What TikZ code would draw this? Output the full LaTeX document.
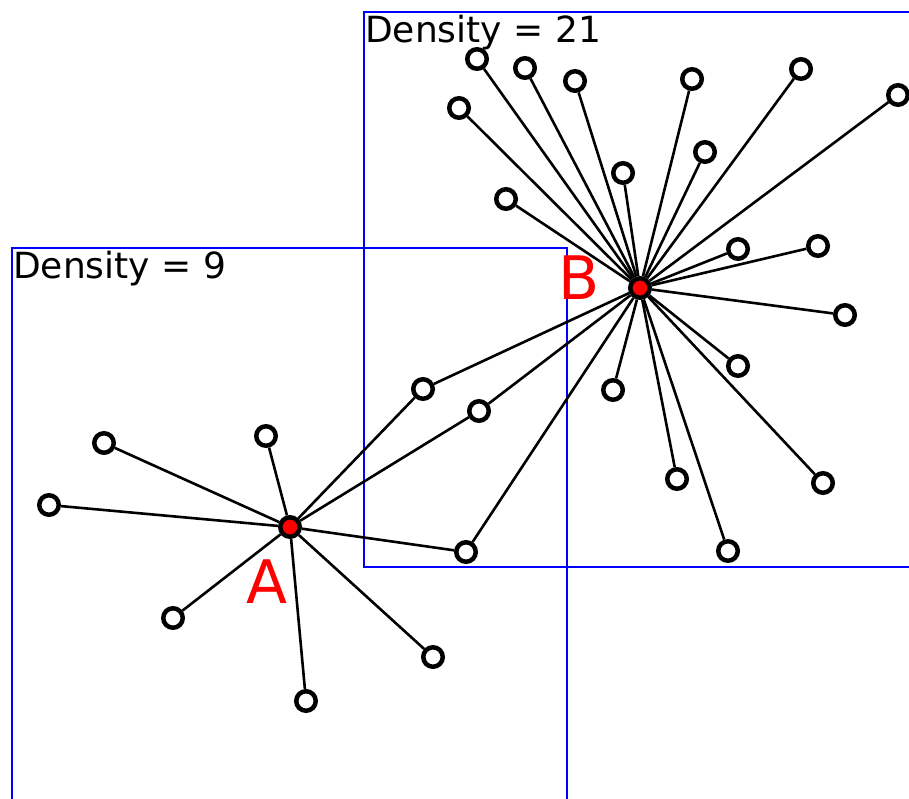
\documentclass[tikz,border=0pt]{standalone}
\usepackage{fontspec}
\setmainfont{DejaVu Sans}
\usepackage{tikz}
\usetikzlibrary{positioning}

\begin{document}
\begin{tikzpicture}[x=1pt,y=-1pt,
  vertex/.style={circle,draw=black,line width=4.5pt,fill=white,inner sep=0pt,minimum size=19.5pt},
  hub/.style={vertex,fill=red},
  edge/.style={black,line width=2.6pt},
  window/.style={blue,line width=2pt},
  density/.style={anchor=base west,inner sep=0pt,font=\fontsize{36}{42}\selectfont},
  tag/.style={anchor=base west,inner sep=0pt,text=red,font=\fontsize{60}{72}\selectfont}]
  \useasboundingbox[fill=white] (0,0) rectangle (909,799);
  % windows
  \draw[window] (12,799) -- (12,248) -- (567,248) -- (567,799);
  \draw[window] (909,12) -- (364,12) -- (364,567) -- (909,567);
  \node[density] (dA) at (13,279) {Density = 9};
  \node[density] (dB) at (365,43) {Density = 21};
  % hubs
  \node[hub] (A) at (290,527) {};
  \node[hub] (B) at (640,288) {};
  \node[tag] (tA) at (246,603) {A};
  \node[tag] (tB) at (558,299) {B};
  % neighbours of A only
  \node[vertex] (a1) at (104,443) {};
  \node[vertex] (a2) at (49,505) {};
  \node[vertex] (a3) at (266,436) {};
  \node[vertex] (a4) at (173,618) {};
  \node[vertex] (a5) at (306,701) {};
  \node[vertex] (a6) at (433,657) {};
  % shared
  \node[vertex] (s1) at (423,389) {};
  \node[vertex] (s2) at (479,411) {};
  \node[vertex] (s3) at (466,552) {};
  % neighbours of B only
  \node[vertex] (b1) at (477,59) {};
  \node[vertex] (b2) at (525,68) {};
  \node[vertex] (b3) at (575,81) {};
  \node[vertex] (b4) at (692,79) {};
  \node[vertex] (b5) at (801,69) {};
  \node[vertex] (b6) at (898,95) {};
  \node[vertex] (b7) at (459,108) {};
  \node[vertex] (b8) at (705,152) {};
  \node[vertex] (b9) at (623,173) {};
  \node[vertex] (b10) at (506,199) {};
  \node[vertex] (b11) at (738,249) {};
  \node[vertex] (b12) at (818,246) {};
  \node[vertex] (b13) at (845,315) {};
  \node[vertex] (b14) at (738,366) {};
  \node[vertex] (b15) at (613,390) {};
  \node[vertex] (b16) at (677,479) {};
  \node[vertex] (b17) at (823,483) {};
  \node[vertex] (b18) at (728,551) {};
  % edges
  \draw[edge] (A)--(a1); \draw[edge] (A)--(a2); \draw[edge] (A)--(a3); \draw[edge] (A)--(a4);
  \draw[edge] (A)--(a5); \draw[edge] (A)--(a6);
  \draw[edge] (A)--(s1); \draw[edge] (A)--(s2); \draw[edge] (A)--(s3);
  \draw[edge] (B)--(s1); \draw[edge] (B)--(s2); \draw[edge] (B)--(s3);
  \draw[edge] (B)--(b1); \draw[edge] (B)--(b2); \draw[edge] (B)--(b3); \draw[edge] (B)--(b4);
  \draw[edge] (B)--(b5); \draw[edge] (B)--(b6); \draw[edge] (B)--(b7); \draw[edge] (B)--(b8);
  \draw[edge] (B)--(b9); \draw[edge] (B)--(b10); \draw[edge] (B)--(b11); \draw[edge] (B)--(b12);
  \draw[edge] (B)--(b13); \draw[edge] (B)--(b14); \draw[edge] (B)--(b15); \draw[edge] (B)--(b16);
  \draw[edge] (B)--(b17); \draw[edge] (B)--(b18);
\end{tikzpicture}
\end{document}
